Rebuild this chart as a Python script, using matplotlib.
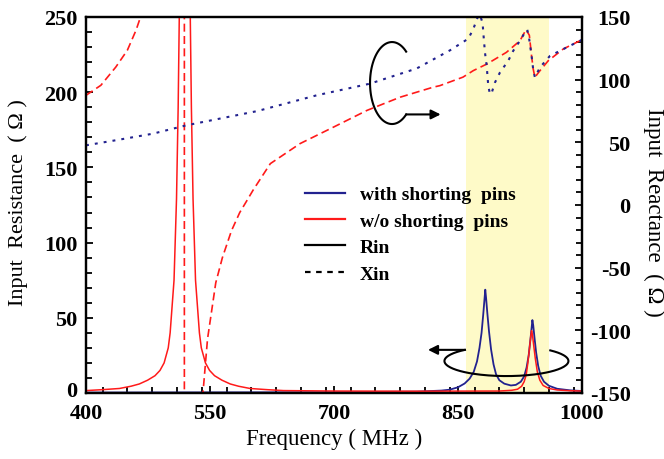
import matplotlib.pyplot as plt
import matplotlib.transforms as mtransforms
import numpy as np
from matplotlib.lines import Line2D
from matplotlib.ticker import MultipleLocator

plt.rcParams['font.family'] = ['Liberation Serif', 'DejaVu Serif']
plt.rcParams['font.weight'] = 'bold'
plt.rcParams['axes.unicode_minus'] = False

BLUE = '#22228f'
RED = '#ff1a1a'

# input resistance, w/o shorting pins
f_r_nopin = [400, 419.5, 440.5, 454.5, 464.5, 474.5, 483.5, 489.5, 494.5, 499.5,
             501.8, 506.5, 509.5, 511.5, 512.85, 514.5, 516.5, 519.5, 522.5, 524.5,
             526.15, 527.5, 529.5, 532.5, 537.2, 539.5, 544.5, 549.5, 555.5, 564.5,
             574.5, 584.5, 598.5, 619.5, 639, 700, 800, 900, 915, 922, 927, 930,
             932.5, 934.5, 936.5, 938, 939, 940, 941.5, 943.5, 946, 949, 953, 960,
             970, 985, 1000]
r_nopin = [1.6, 2.2, 3.0, 4.5, 6.0, 8.5, 11.5, 15, 20, 30,
           40, 75, 129, 190, 250, 330, 450, 600, 450, 330,
           250, 190, 129, 75, 40, 30, 20, 15, 11.5, 8.5,
           6.0, 4.5, 3.0, 2.2, 1.6, 1.3, 1.2, 1.3, 1.8, 2.5, 4.5, 7.5,
           12, 20, 30, 37.5, 41.4, 39, 32, 23, 14, 8.5, 5, 3,
           2, 1.5, 1.3]

# input resistance, with shorting pins
f_r_pin = [400, 700, 800, 830, 840, 850, 858, 864, 869, 873, 876, 878.5, 880.5,
           882, 883, 884, 885.5, 887.5, 890, 893, 896, 900, 906, 914, 920, 926,
           930, 933, 935.5, 937.5, 939, 940, 941, 942.5, 944.5, 947, 950, 954,
           960, 970, 985, 1000]
r_pin = [0.3, 0.5, 0.9, 1.6, 2.2, 3.8, 6.3, 9.5, 14, 21, 30, 40, 52,
         62, 68.7, 63, 53, 41, 29, 19, 12.5, 8.5, 6.2, 5.0, 5.4, 7.5,
         11, 17, 25, 35, 43, 48.5, 45, 37, 27, 18, 11.5, 7.5,
         4.8, 2.8, 1.8, 1.3]

# input reactance, w/o shorting pins
f_x_nopin = [400, 418, 436, 450, 460.5, 466, 480, 495, 505, 512, 516, 519, 519,
             522, 526, 530, 535, 539, 541.5, 547, 557, 565, 576, 586, 596, 602,
             623, 659, 699, 740, 780, 820, 828, 856, 868.5, 885, 908.6, 925,
             932.3, 936.3, 939, 941, 943, 949.2, 959.2, 977.4, 997.6, 1000]
x_nopin = [87.5, 95.5, 110, 123.4, 139.4, 150, 185, 240, 300, 380, 450, 470, -470,
           -460, -380, -300, -230, -180, -150, -107, -62, -42, -20.5, -6, 5, 11.7,
           33, 49, 62, 75.5, 86, 94, 95.2, 102, 107.2, 112.5, 121.8, 131.1,
           139.9, 135.4, 119, 108.5, 101.9, 107.2, 115.1, 124.5, 131.1, 132]

# input reactance, with shorting pins
f_x_pin = [400, 440, 481, 521, 561, 607, 679, 743.5, 800, 840.3, 862.5, 868.5,
           873.8, 876.5, 879.8, 880.6, 882.6, 884.7, 886.6, 888.7, 891, 894.7,
           900.8, 910.8, 916.9, 925, 931, 933.8, 936, 939, 941, 943, 949.2,
           961.3, 981.4, 997.6, 1000]
x_pin = [47.6, 52.1, 56.9, 63.5, 68.8, 74.9, 87.5, 96.8, 108.9, 123.4, 132.7, 140.4,
         149.8, 152, 145, 137.6, 121.8, 111.1, 95.2, 88.4, 90, 97.7,
         105.8, 115.1, 123.1, 131.1, 137.7, 139.9, 133, 119, 108, 101.9, 109.8,
         119, 125.7, 131, 132]

band = (860, 960)

fig = plt.figure(figsize=(6.64, 4.60), dpi=100)
ax = fig.add_axes([0.1295, 0.1435, 0.747, 0.8174])
ax2 = ax.twinx()

ax.axvspan(band[0], band[1], color='#fefac8', zorder=0, lw=0)
ax.plot(f_r_nopin, r_nopin, color=RED, lw=1.1, zorder=3)
ax.plot(f_r_pin, r_pin, color=BLUE, lw=1.3, zorder=2)

ax2.plot(f_x_nopin, x_nopin, color=RED, lw=1.2, ls=(0, (4.8, 2.6)))
ax2.plot(f_x_pin, x_pin, color=BLUE, lw=1.5, ls=(0, (1.4, 2.9)))

ax.set_xlim(400, 1000)
ax.set_ylim(0, 250)
ax2.set_ylim(-150, 150)
ax.set_xticks([400, 550, 700, 850, 1000])
ax.set_yticks(range(0, 251, 50))
ax2.set_yticks(range(-150, 151, 50))
ax.xaxis.set_minor_locator(MultipleLocator(30))
ax.yaxis.set_minor_locator(MultipleLocator(10))
ax2.yaxis.set_minor_locator(MultipleLocator(10))

ax.tick_params(which='both', direction='in', top=False, right=False, width=1.3,
               labelsize=16)
ax.tick_params(which='major', length=5)
ax.tick_params(which='minor', length=4)
ax.tick_params(axis='y', pad=6)
ax.tick_params(axis='x', pad=7)
ax2.tick_params(which='both', direction='in', width=1.3, labelsize=16)
ax2.tick_params(which='major', length=5, pad=35)
ax2.tick_params(which='minor', length=4)
plt.setp(ax2.get_yticklabels(), ha='right')

# lift the "0" a little so it sits clear of the "400" below it
zero = ax.get_yticklabels()[0]
zero.set_transform(zero.get_transform() +
                   mtransforms.ScaledTranslation(0, 3 / 72, fig.dpi_scale_trans))

for sp in ax.spines.values():
    sp.set_linewidth(1.6)
for sp in ax2.spines.values():
    sp.set_linewidth(1.6)

ax.set_xlabel('Frequency ( MHz )', fontsize=16.5, va='center')
ax.xaxis.set_label_coords(0.5, -0.122)
ax.set_ylabel('Input  Resistance  ( \u03a9 )', fontsize=16, va='center')
ax.yaxis.set_label_coords(-0.137, 0.51)
ax2.set_ylabel('Input  Reactance  ( \u03a9 )', fontsize=16.5, rotation=270,
               va='center', ha='center')
ax2.yaxis.set_label_coords(1.145, 0.484)

# rotation markers: which curves belong to which axis
t = np.radians(np.linspace(50, 310, 100))
cx, cy, rx, ry = 770.2, 97.3, 26.6, 32.7
ax2.plot(cx + rx * np.cos(t), cy + ry * np.sin(t), color='k', lw=1.5, zorder=5)
y_end = cy + ry * np.sin(t[-1])
ax2.annotate('', xy=(829, y_end), xytext=(cx + rx * np.cos(t[-1]), y_end),
             arrowprops=dict(arrowstyle='-|>', color='k', lw=1.5,
                             mutation_scale=14, shrinkA=0, shrinkB=0), zorder=5)

t = np.radians(np.linspace(132, 405, 150))
cx, cy, rx, ry = 908.6, -124.5, 75, 12
ax2.plot(cx + rx * np.cos(t), cy + ry * np.sin(t), color='k', lw=1.5, zorder=5)
y_end = cy + ry * np.sin(t[0])
ax2.annotate('', xy=(813.7, y_end), xytext=(cx + rx * np.cos(t[0]), y_end),
             arrowprops=dict(arrowstyle='-|>', color='k', lw=1.5,
                             mutation_scale=14, shrinkA=0, shrinkB=0), zorder=5)

handles = [Line2D([], [], color=BLUE, lw=1.6),
           Line2D([], [], color=RED, lw=1.6),
           Line2D([], [], color='k', lw=1.6),
           Line2D([], [], color='k', lw=1.6, ls=(0, (2.5, 2.5)))]
labels = ['with shorting  pins', 'w/o shorting  pins', 'Rin', 'Xin']
ax2.legend(handles, labels, loc='upper left', bbox_to_anchor=(0.4415, 0.551),
           frameon=False, fontsize=14, handlelength=2.06, handletextpad=0.77,
           labelspacing=0.45, borderpad=0, borderaxespad=0)

fig.savefig('out.png', dpi=100)
